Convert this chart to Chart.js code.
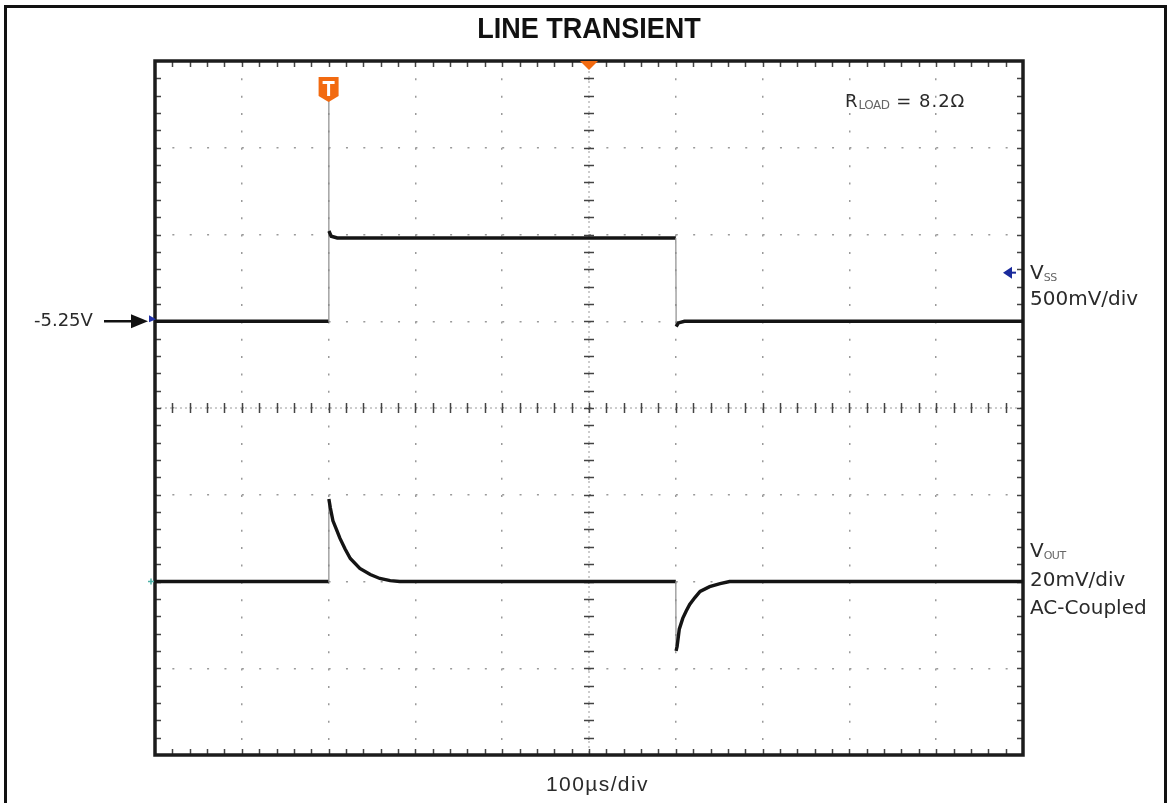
<!DOCTYPE html>
<html>
<head>
<meta charset="utf-8">
<title>Line Transient</title>
<script src="https://cdn.jsdelivr.net/npm/chart.js@4/dist/chart.umd.min.js"></script>
<style>
  html, body { margin: 0; padding: 0; background: #fff; }
  #wrap { position: relative; width: 1169px; height: 803px; overflow: hidden; }
  #frame { position: absolute; left: 4px; top: 5px; width: 1163px; height: 830px; border: 3px solid #111; box-sizing: border-box; }
  #scope { position: absolute; left: 0; top: 0; }
  .lbl { position: absolute; font-family: "DejaVu Sans", sans-serif; font-size: 20px; line-height: 20px; color: #2a2a2a; white-space: nowrap; }
  .lbl sub { font-size: 11px; vertical-align: -2px; letter-spacing: -0.5px; color: #666; }
  #title { position: absolute; left: 389px; width: 400px; top: 13px; text-align: center; font-family: "Liberation Sans Narrow", "Liberation Sans", Arial, sans-serif; font-weight: bold; font-size: 30px; line-height: 30px; color: #111; transform: scaleX(0.9); }
  #xlabel { font-family: "Liberation Sans", Arial, sans-serif; font-size: 21px; letter-spacing: 1.4px; }
  #rload { font-size: 18px; letter-spacing: 1px; }
  #rload sub { font-size: 12px; }
</style>
</head>
<body>
<div id="wrap">
  <div id="frame"></div>
  <canvas id="scope" width="1169" height="803"></canvas>
  <div id="title">LINE TRANSIENT</div>
  <div class="lbl" id="rload" style="left:845px; top:91px;">R<sub>LOAD</sub> = 8.2&#937;</div>
  <div class="lbl" style="left:34px; top:310px; font-size:18px;">-5.25V</div>
  <div class="lbl" style="left:1030px; top:262px;">V<sub>SS</sub></div>
  <div class="lbl" style="left:1030px; top:288px;">500mV/div</div>
  <div class="lbl" style="left:1030px; top:540px;">V<sub>OUT</sub></div>
  <div class="lbl" style="left:1030px; top:569px;">20mV/div</div>
  <div class="lbl" style="left:1030px; top:597px;">AC-Coupled</div>
  <div class="lbl" id="xlabel" style="left:546px; top:774px;">100&micro;s/div</div>
</div>
<script>
// time base: 100us/div, 10 divisions
const timeMin = 0;
const timeMax = 1000;
const timeDiv = 100;

// VSS channel, 500mV/div, -5.25V marker 3 divs below the top
const vssMin = -7.75;
const vssMax = -3.75;
const vssDiv = 0.5;
const vssTimeUs = [0, 200, 200.2, 200.4, 203, 210, 600, 600.4, 603, 610, 1000];
const vssVolts = [-5.25, -5.25, -3.98, -4.73, -4.76, -4.77, -4.77, -5.28, -5.26, -5.25, -5.25];

// VOUT channel, 20mV/div, AC-coupled
const voutMin = -40;
const voutMax = 120;
const voutTimeUs = [0, 200, 200.3, 202, 205, 209, 213, 219, 225, 236, 248, 259, 271, 282, 300,
  600, 600.3, 601.5, 604, 608, 612, 616, 622, 628, 639, 651, 662, 680, 1000];
const voutMilliVolts = [0, 0, 19, 17, 14, 12, 10, 7.5, 5.3, 3, 1.6, 0.7, 0.2, 0, 0,
  0, -16, -15, -11, -8.5, -6.8, -5.3, -3.7, -2.3, -1.2, -0.5, 0, 0, 0];

// markers
const triggerUs = 200;
const centerUs = 500;
const vssMarkerV = -5.25;
const vssRefArrowV = -4.97;

function toPoints(xs, ys) {
  return xs.map((x, i) => ({x: x, y: ys[i]}));
}

// fast edges are drawn thin and faint, like on the scope screen
const edgeStyle = {
  borderWidth: c => Math.abs(c.p1.parsed.x - c.p0.parsed.x) < 1 ? 1.2 : 3.4,
  borderColor: c => Math.abs(c.p1.parsed.x - c.p0.parsed.x) < 1 ? '#8c8c8c' : '#141414'
};

const graticule = {
  id: 'graticule',
  beforeDatasetsDraw(chart) {
    const {ctx, chartArea: a, scales: {x, y}} = chart;
    const cx = x.getPixelForValue((timeMin + timeMax) / 2);
    const cy = y.getPixelForValue((vssMin + vssMax) / 2);
    ctx.save();
    ctx.strokeStyle = '#9a9a9a';
    ctx.lineWidth = 1;
    ctx.setLineDash([2, 3]);
    ctx.beginPath();
    ctx.moveTo(a.left, cy); ctx.lineTo(a.right, cy);
    ctx.moveTo(cx, a.top); ctx.lineTo(cx, a.bottom);
    ctx.stroke();
    ctx.setLineDash([]);
    ctx.strokeStyle = '#444';
    ctx.lineWidth = 1.5;
    ctx.beginPath();
    for (let t = timeMin + timeDiv / 5; t < timeMax; t += timeDiv / 5) {
      const px = Math.round(x.getPixelForValue(t)) + 0.5;
      ctx.moveTo(px, cy - 5); ctx.lineTo(px, cy + 5);
      ctx.moveTo(px, a.top); ctx.lineTo(px, a.top + 6);
      ctx.moveTo(px, a.bottom); ctx.lineTo(px, a.bottom - 6);
    }
    for (let v = vssMin + vssDiv / 5; v < vssMax - 1e-6; v += vssDiv / 5) {
      const py = Math.round(y.getPixelForValue(v)) + 0.5;
      ctx.moveTo(cx - 5, py); ctx.lineTo(cx + 5, py);
      ctx.moveTo(a.left, py); ctx.lineTo(a.left + 6, py);
      ctx.moveTo(a.right, py); ctx.lineTo(a.right - 6, py);
    }
    ctx.stroke();
    ctx.lineWidth = 3.5;
    ctx.strokeStyle = '#1c1c1c';
    ctx.strokeRect(a.left, a.top, a.right - a.left, a.bottom - a.top);
    ctx.restore();
  },
  afterDatasetsDraw(chart) {
    const {ctx, chartArea: a, scales: {x, y, y2}} = chart;
    ctx.save();
    // trigger marker
    const tx = x.getPixelForValue(triggerUs);
    ctx.fillStyle = '#f26a10';
    ctx.beginPath();
    ctx.moveTo(tx - 10, 77); ctx.lineTo(tx + 10, 77); ctx.lineTo(tx + 10, 96);
    ctx.lineTo(tx, 102); ctx.lineTo(tx - 10, 96); ctx.closePath();
    ctx.fill();
    ctx.fillStyle = '#fff';
    ctx.fillRect(tx - 6, 81, 12, 3);
    ctx.fillRect(tx - 1.5, 81, 3, 15);
    // horizontal position marker
    const mx = x.getPixelForValue(centerUs);
    ctx.fillStyle = '#f26a10';
    ctx.beginPath();
    ctx.moveTo(mx - 9, a.top); ctx.lineTo(mx + 9, a.top); ctx.lineTo(mx, a.top + 9);
    ctx.closePath();
    ctx.fill();
    // VSS ground marker and reference arrow
    const vy = y.getPixelForValue(vssMarkerV);
    ctx.fillStyle = '#2233aa';
    ctx.beginPath();
    ctx.moveTo(a.left - 6, vy - 6); ctx.lineTo(a.left + 1, vy - 2); ctx.lineTo(a.left - 6, vy + 1);
    ctx.closePath();
    ctx.fill();
    ctx.strokeStyle = '#111';
    ctx.lineWidth = 2.5;
    ctx.beginPath();
    ctx.moveTo(104, vy); ctx.lineTo(134, vy);
    ctx.stroke();
    ctx.fillStyle = '#111';
    ctx.beginPath();
    ctx.moveTo(131, vy - 7); ctx.lineTo(148, vy); ctx.lineTo(131, vy + 7);
    ctx.closePath();
    ctx.fill();
    const ry = y.getPixelForValue(vssRefArrowV);
    ctx.fillStyle = '#1a2a9c';
    ctx.beginPath();
    ctx.moveTo(a.right - 20, ry); ctx.lineTo(a.right - 11, ry - 6); ctx.lineTo(a.right - 11, ry + 6);
    ctx.closePath();
    ctx.fill();
    ctx.fillRect(a.right - 12, ry - 1, 5, 2);
    // VOUT ground marker
    const oy = y2.getPixelForValue(0);
    ctx.strokeStyle = '#4fb3a9';
    ctx.lineWidth = 1.5;
    ctx.beginPath();
    ctx.moveTo(a.left - 7, oy); ctx.lineTo(a.left - 1, oy);
    ctx.moveTo(a.left - 4, oy - 3); ctx.lineTo(a.left - 4, oy + 3);
    ctx.stroke();
    ctx.restore();
  }
};

const ctx = document.getElementById('scope');

new Chart(ctx, {
  type: 'line',
  data: {
    datasets: [
      {
        label: 'VSS',
        data: toPoints(vssTimeUs, vssVolts),
        yAxisID: 'y',
        pointRadius: 0,
        tension: 0,
        segment: edgeStyle
      },
      {
        label: 'VOUT',
        data: toPoints(voutTimeUs, voutMilliVolts),
        yAxisID: 'y2',
        pointRadius: 0,
        tension: 0,
        segment: edgeStyle
      }
    ]
  },
  options: {
    responsive: false,
    animation: false,
    devicePixelRatio: 1,
    layout: { padding: { left: 155, top: 61, right: 146, bottom: 48 } },
    plugins: { legend: { display: false }, tooltip: { enabled: false } },
    scales: {
      x: {
        type: 'linear',
        min: timeMin,
        max: timeMax,
        ticks: { display: false, stepSize: timeDiv },
        grid: { color: '#9a9a9a', lineWidth: 1.5, drawTicks: false },
        border: { display: false, dash: [2, 15.36] }
      },
      y: {
        min: vssMin,
        max: vssMax,
        ticks: { display: false, stepSize: vssDiv },
        grid: { color: '#9a9a9a', lineWidth: 1.5, drawTicks: false },
        border: { display: false, dash: [2, 15.36] }
      },
      y2: {
        display: false,
        min: voutMin,
        max: voutMax
      }
    }
  },
  plugins: [graticule]
});
</script>
</body>
</html>
